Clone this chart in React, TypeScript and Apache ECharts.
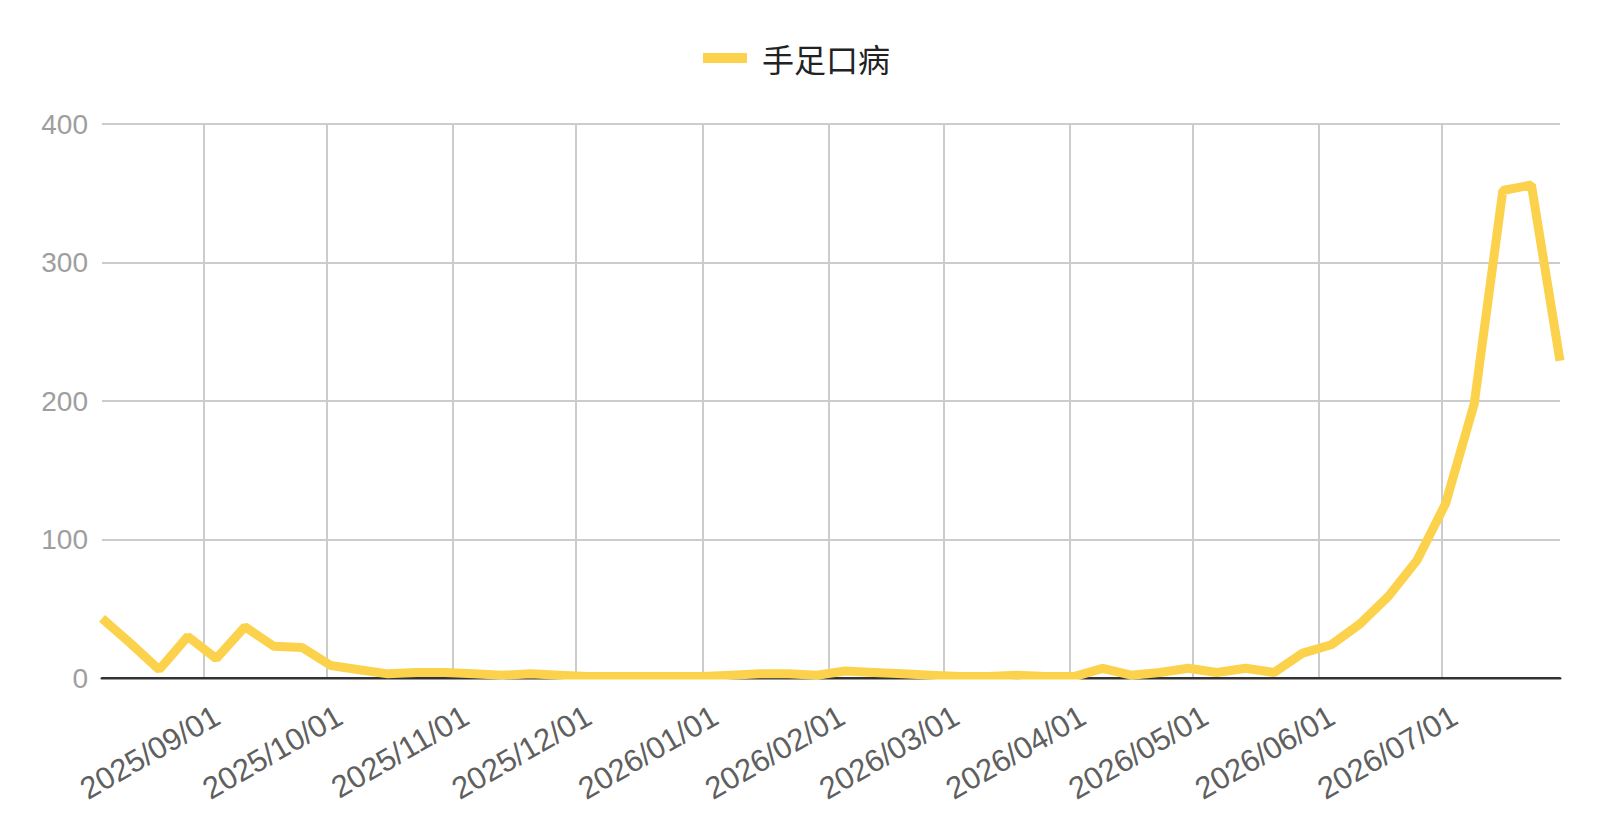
import React, { useEffect, useRef } from 'react';
import * as echarts from 'echarts';

// 每周报告日期（周四）
const weekDates = [
  '2025-08-07', '2025-08-14', '2025-08-21', '2025-08-28',
  '2025-09-04', '2025-09-11', '2025-09-18', '2025-09-25',
  '2025-10-02', '2025-10-09', '2025-10-16', '2025-10-23', '2025-10-30',
  '2025-11-06', '2025-11-13', '2025-11-20', '2025-11-27',
  '2025-12-04', '2025-12-11', '2025-12-18', '2025-12-25',
  '2026-01-01', '2026-01-08', '2026-01-15', '2026-01-22', '2026-01-29',
  '2026-02-05', '2026-02-12', '2026-02-19', '2026-02-26',
  '2026-03-05', '2026-03-12', '2026-03-19', '2026-03-26',
  '2026-04-02', '2026-04-09', '2026-04-16', '2026-04-23', '2026-04-30',
  '2026-05-07', '2026-05-14', '2026-05-21', '2026-05-28',
  '2026-06-04', '2026-06-11', '2026-06-18', '2026-06-25',
  '2026-07-02', '2026-07-09', '2026-07-16', '2026-07-23', '2026-07-30',
];

// 手足口病 每周报告数
const hfmdCases = [
  43, 25, 6, 30,
  14, 37, 23, 22,
  9, 6, 3, 4, 4,
  3, 2, 3, 2,
  1, 1, 1, 1,
  1, 2, 3, 3, 2,
  5, 4, 3, 2,
  1, 1, 2, 1,
  1, 7, 2, 4, 7,
  4, 7, 4, 18,
  24, 39, 59, 85,
  126, 198, 352, 356, 229,
];

// 横轴刻度（每月1日）
const monthTicks = [
  '2025-09-01', '2025-10-01', '2025-11-01', '2025-12-01',
  '2026-01-01', '2026-02-01', '2026-03-01', '2026-04-01',
  '2026-05-01', '2026-06-01', '2026-07-01',
];

const seriesName = '手足口病';
const yTicks = [0, 100, 200, 300, 400];

// 日期字符串按 UTC 解析，格式化时也用 UTC
const toTime = (s: string) => Date.parse(s + 'T00:00:00Z');
const pad = (n: number) => (n < 10 ? '0' + n : '' + n);
const fmtDate = (v: number) => {
  const d = new Date(v);
  return `${d.getUTCFullYear()}/${pad(d.getUTCMonth() + 1)}/${pad(d.getUTCDate())}`;
};

const LATIN = '"Liberation Sans", Arial, sans-serif';
const CJK = '"Noto Sans CJK SC", "Noto Sans", sans-serif';

const App: React.FC = () => {
  const chartRef = useRef<HTMLDivElement>(null);

  useEffect(() => {
    document.body.style.margin = '0';
    if (!chartRef.current) return;
    const chart = echarts.init(chartRef.current, undefined, { renderer: 'svg' });

    const times = weekDates.map(toTime);
    const tickTimes = monthTicks.map(toTime);

    const option: any = {
      animation: false,
      backgroundColor: '#ffffff',
      legend: {
        data: [seriesName],
        left: 698,
        top: 37,
        icon: 'rect',
        itemWidth: 44,
        itemHeight: 10,
        textStyle: {
          fontSize: 32,
          lineHeight: 32,
          color: '#222222',
          fontFamily: CJK,
          padding: [0, 0, 0, 10],
        },
      },
      grid: { left: 102, right: 40, top: 124, bottom: 157 },
      xAxis: [
        {
          type: 'value',
          min: times[0],
          max: times[times.length - 1],
          axisLine: { show: false },
          axisTick: { show: false, customValues: tickTimes },
          splitLine: { show: true, lineStyle: { color: '#cccccc', width: 2 } },
          axisLabel: {
            customValues: tickTimes,
            formatter: (v: number) => fmtDate(v),
            rotate: 30,
            align: 'right',
            verticalAlign: 'top',
            lineHeight: 52,
            margin: 13,
            fontSize: 31,
            color: '#5f5f5f',
            fontFamily: LATIN,
          },
        },
        {
          // 零基线，画在折线之上
          type: 'value',
          position: 'bottom',
          min: 0,
          max: 1,
          z: 3,
          axisLine: { show: true, onZero: false, lineStyle: { color: '#333333', width: 3 } },
          axisTick: { show: false },
          axisLabel: { show: false },
          splitLine: { show: false },
        },
      ],
      yAxis: {
        type: 'value',
        min: yTicks[0],
        max: yTicks[yTicks.length - 1],
        interval: 100,
        axisLine: { show: false },
        axisTick: { show: false },
        splitLine: { show: true, lineStyle: { color: '#cccccc', width: 2 } },
        axisLabel: { margin: 14, fontSize: 28, color: '#9e9e9e', fontFamily: LATIN },
      },
      graphic: [
        {
          type: 'rect',
          z: 100,
          silent: true,
          shape: { x: 94, y: 679.5, width: 1476, height: 5 },
          style: { fill: '#ffffff' },
        },
      ],
      series: [
        {
          name: seriesName,
          type: 'line',
          xAxisIndex: 0,
          data: times.map((t, i) => [t, hfmdCases[i]]),
          showSymbol: false,
          symbol: 'none',
          color: '#FCD24D',
          lineStyle: { color: '#FCD24D', width: 9 },
        },
      ],
    };

    chart.setOption(option);
    return () => chart.dispose();
  }, []);

  return <div ref={chartRef} style={{ width: 1600, height: 835 }} />;
};

export default App;
